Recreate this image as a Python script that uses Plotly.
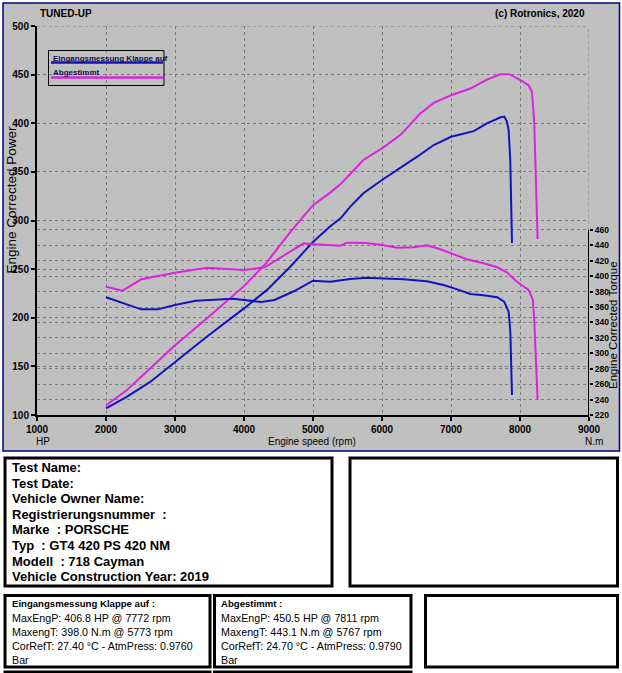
import plotly.graph_objects as go

# ---------------- data ----------------
# Run A: "Eingangsmessung Klappe auf" (blue)
rpm_power_a = [2000, 2300, 2640, 3000, 3460, 4000, 4330, 4670, 5000, 5250, 5400, 5540,
               5730, 6000, 6220, 6510, 6750, 7000, 7330, 7520, 7710, 7772, 7810, 7835,
               7859, 7875, 7884]
power_a = [106.7, 118.6, 134.0, 154.6, 180.4, 209.6, 228.4, 252.4, 278.0, 294.0, 302.2, 314.3,
           328.0, 341.7, 351.9, 365.6, 377.6, 386.1, 391.9, 399.8, 405.9, 406.8, 402.0, 392.9,
           362.2, 320.0, 276.8]
rpm_torque_a = [2000, 2300, 2510, 2750, 3000, 3300, 3840, 4250, 4440, 4730, 5000, 5250,
                5540, 5773, 6000, 6310, 6650, 6890, 7090, 7280, 7470, 7670, 7770, 7835,
                7859, 7874, 7884]
torque_a = [372.7, 364.0, 357.0, 357.0, 362.7, 368.3, 370.8, 366.6, 369.2, 380.8, 394.2, 392.9,
            396.4, 398.0, 397.3, 396.0, 393.4, 388.6, 383.0, 376.9, 375.3, 372.7, 367.0, 354.0,
            330.0, 291.0, 246.0]

# Run B: "Abgestimmt" (magenta)
rpm_power_b = [2000, 2300, 2640, 3000, 3460, 4000, 4330, 4670, 5000, 5250, 5400, 5730,
               6000, 6265, 6555, 6750, 7000, 7280, 7520, 7714, 7811, 7860, 8025, 8125,
               8174, 8207, 8223, 8240, 8255]
power_b = [110.0, 125.5, 147.8, 171.8, 199.3, 232.5, 257.0, 288.0, 315.8, 328.7, 337.4, 362.2,
           374.2, 387.8, 410.0, 420.9, 428.8, 435.7, 444.9, 450.3, 450.5, 450.0, 443.5, 439.0,
           432.0, 400.0, 360.0, 310.0, 281.0]
rpm_torque_b = [2000, 2240, 2510, 2750, 3000, 3460, 3800, 4000, 4300, 4590, 4865, 5000,
                5250, 5400, 5490, 5767, 6000, 6220, 6460, 6650, 6845, 7000, 7230, 7470,
                7670, 7810, 7956, 8125, 8188, 8207, 8223, 8246, 8255]
torque_b = [386.4, 381.2, 396.0, 400.3, 404.6, 411.0, 409.4, 408.0, 411.6, 427.0, 442.7, 441.5,
            440.5, 439.6, 443.5, 443.1, 440.5, 437.0, 437.5, 440.0, 434.9, 429.7, 422.0, 416.8,
            411.6, 405.0, 392.9, 382.1, 369.2, 343.2, 308.6, 265.4, 239.5]

series_names = ["Eingangsmessung Klappe auf", "Abgestimmt"]

x_ticks = list(range(1000, 9001, 1000))
power_ticks = list(range(100, 501, 50))
torque_ticks = list(range(220, 461, 20))

info_lines = ["Test Name:", "Test Date:", "Vehicle Owner Name:",
              "Registrierungsnummer\u00a0 :", "Marke\u00a0 : PORSCHE",
              "Typ\u00a0 : GT4 420 PS 420 NM", "Modell\u00a0 : 718 Cayman",
              "Vehicle Construction Year: 2019"]
result_a = ["MaxEngP: 406.8 HP @ 7772 rpm", "MaxengT: 398.0 N.m @ 5773 rpm",
            "CorRefT: 27.40 °C - AtmPress: 0.9760", "Bar"]
result_b = ["MaxEngP: 450.5 HP @ 7811 rpm", "MaxengT: 443.1 N.m @ 5767 rpm",
            "CorRefT: 24.70 °C - AtmPress: 0.9790", "Bar"]

# ---------------- styling ----------------
BLUE = "#1212c2"
PINK = "#dd22dd"
GRID = "#7c7c7c"
PANEL = "#c0c0c0"
FONT = "Liberation Sans, Arial, sans-serif"

L, T, W, H = 37, 26, 552, 389
FIG_W, FIG_H = 622, 673
TORQUE_PX = 0.771          # px per N.m on the right scale
y2_top = 220 + H / TORQUE_PX


def fx(p):
    return (p - L) / W


def fy(p):
    return (T + H - p) / H


fig = go.Figure()
fig.add_trace(go.Scatter(x=rpm_power_a, y=power_a, mode="lines", name=series_names[0],
                         line=dict(color=BLUE, width=2), showlegend=False))
fig.add_trace(go.Scatter(x=rpm_power_b, y=power_b, mode="lines", name=series_names[1],
                         line=dict(color=PINK, width=2), showlegend=False))
fig.add_trace(go.Scatter(x=rpm_torque_a, y=torque_a, mode="lines", name=series_names[0],
                         line=dict(color=BLUE, width=2), yaxis="y2", showlegend=False))
fig.add_trace(go.Scatter(x=rpm_torque_b, y=torque_b, mode="lines", name=series_names[1],
                         line=dict(color=PINK, width=2), yaxis="y2", showlegend=False))

shapes = []
# chart panel
shapes.append(dict(type="rect", xref="paper", yref="paper", x0=fx(3), x1=fx(619.5),
                   y0=fy(3), y1=fy(451), fillcolor=PANEL, line=dict(color="#000080", width=1.5),
                   layer="below"))
# edge grid lines (top at 500 HP, right above torque axis)
shapes.append(dict(type="line", xref="x", yref="y", x0=1000, x1=9000, y0=500, y1=500,
                   line=dict(color=GRID, width=1, dash="3px,3px"), layer="below"))
shapes.append(dict(type="line", xref="x", yref="y2", x0=9000, x1=9000, y0=460, y1=y2_top,
                   line=dict(color=GRID, width=1, dash="3px,3px"), layer="below"))
# right torque axis line (only over its range)
shapes.append(dict(type="line", xref="x", yref="y2", x0=9000, x1=9000, y0=220, y1=460,
                   line=dict(color="black", width=2)))
# legend box and lines
shapes.append(dict(type="rect", xref="paper", yref="paper", x0=fx(48.5), x1=fx(164),
                   y0=fy(50.5), y1=fy(85.5), line=dict(color="black", width=1)))
shapes.append(dict(type="line", xref="paper", yref="paper", x0=fx(51), x1=fx(163),
                   y0=fy(62.5), y1=fy(62.5), line=dict(color=BLUE, width=2.5)))
shapes.append(dict(type="line", xref="paper", yref="paper", x0=fx(51), x1=fx(163),
                   y0=fy(77.5), y1=fy(77.5), line=dict(color=PINK, width=2.5)))

# info boxes
boxes = [(5, 458, 332, 586), (350, 458, 617.5, 586),
         (5, 595.5, 210, 667), (214.5, 595.5, 411, 667), (425.5, 595.5, 617.5, 667),
         (5, 672, 210, 690), (214.5, 672, 411, 690)]
for (x0, y0, x1, y1) in boxes:
    shapes.append(dict(type="rect", xref="paper", yref="paper", x0=fx(x0), x1=fx(x1),
                       y0=fy(y0), y1=fy(y1), line=dict(color="black", width=3)))

ann = []


def text(xp, yp, s, size=10, bold=False, xanchor="left", angle=0, color="black"):
    ann.append(dict(xref="paper", yref="paper", x=fx(xp), y=fy(yp), text=s, showarrow=False,
                    xanchor=xanchor, yanchor="middle", textangle=angle,
                    font=dict(family=FONT, size=size, color=color,
                              weight="bold" if bold else "normal")))


text(38, 13.5, "TUNED-UP", 10, True)
text(587, 13.5, "(c) Rotronics, 2020", 10, True, xanchor="right")
text(10.5, 200, "Engine Corrected Power", 13.5, False, xanchor="center", angle=-90)
text(613, 325, "Engine Corrected Torque", 11.5, False, xanchor="center", angle=-90)
text(312, 441, "Engine speed (rpm)", 10, False, xanchor="center")
text(43, 441, "HP", 10, False, xanchor="center")
text(605, 441, "N.m", 10, False, xanchor="right")
text(51, 58, series_names[0], 8, True, color="#101050")
text(51, 73, series_names[1], 8, True, color="#101050")

for i, s in enumerate(info_lines):
    text(9.5, 467.5 + i * 15.6, s, 13, True)

text(9.5, 603.5, "Eingangsmessung Klappe auf :", 9.6, True)
for i, s in enumerate(result_a):
    text(9.5, 617.5 + i * 14, s, 10.7, False)
text(218.5, 603.5, "Abgestimmt :", 9.6, True)
for i, s in enumerate(result_b):
    text(218.5, 617.5 + i * 14, s, 10.7, False)

tickfont = dict(family=FONT, size=10, color="black", weight="bold")

fig.update_layout(
    width=FIG_W, height=FIG_H, autosize=False,
    margin=dict(l=L, r=FIG_W - L - W, t=T, b=FIG_H - T - H, pad=0),
    paper_bgcolor="white", plot_bgcolor="rgba(0,0,0,0)",
    shapes=shapes, annotations=ann,
    xaxis=dict(range=[1000, 9000], tickvals=x_ticks, ticktext=[str(v) for v in x_ticks],
               showgrid=True, gridcolor=GRID, gridwidth=1, griddash="3px,3px",
               showline=True, linecolor="black", linewidth=2,
               ticks="outside", ticklen=4, tickwidth=2, tickcolor="black",
               tickfont=tickfont, zeroline=False, fixedrange=True),
    yaxis=dict(range=[100, 500], tickvals=power_ticks, ticktext=[str(v) for v in power_ticks],
               showgrid=True, gridcolor=GRID, gridwidth=1, griddash="3px,3px",
               showline=True, linecolor="black", linewidth=2,
               ticks="outside", ticklen=4, tickwidth=2, tickcolor="black",
               tickfont=tickfont, zeroline=False, fixedrange=True),
    yaxis2=dict(range=[220, y2_top], overlaying="y", side="right", anchor="x",
                tickvals=torque_ticks, ticktext=[str(v) for v in torque_ticks],
                showgrid=True, gridcolor=GRID, gridwidth=1, griddash="3px,3px",
                showline=False, ticks="outside", ticklen=3, tickwidth=1.5, tickcolor="black",
                tickfont=dict(family=FONT, size=8.5, color="black", weight="bold"),
                zeroline=False, fixedrange=True),
)

fig.write_html("out.html", config={"displayModeBar": False},
               post_script="document.body.style.margin='0';"
                           "document.body.style.overflow='hidden';")
